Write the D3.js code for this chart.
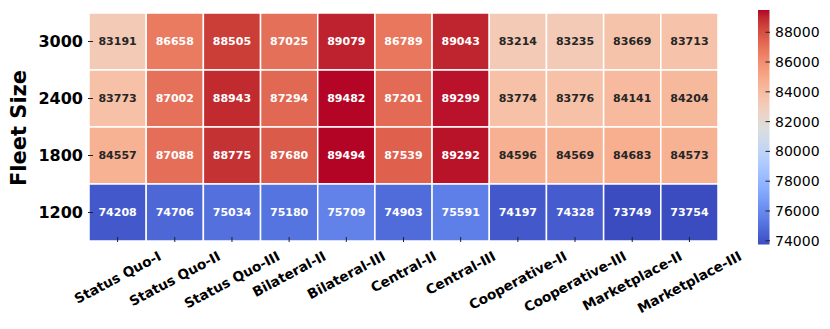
<!DOCTYPE html>
<html><head><meta charset="utf-8">
<script src="https://cdn.jsdelivr.net/npm/d3@7"></script>
<style>body{margin:0;background:#fff}svg{display:block;font-family:"DejaVu Sans",sans-serif}</style>
</head><body>
<svg id="c" width="830" height="329"></svg>
<script>
const strategies = ["Status Quo-I","Status Quo-II","Status Quo-III","Bilateral-II","Bilateral-III","Central-II","Central-III","Cooperative-II","Cooperative-III","Marketplace-II","Marketplace-III"];
const fleetSizes = ["3000","2400","1800","1200"];
const row3000 = [83191,86658,88505,87025,89079,86789,89043,83214,83235,83669,83713];
const row2400 = [83773,87002,88943,87294,89482,87201,89299,83774,83776,84141,84204];
const row1800 = [84557,87088,88775,87680,89494,87539,89292,84596,84569,84683,84573];
const row1200 = [74208,74706,75034,75180,75709,74903,75591,74197,74328,73749,73754];
const colorbarTicks = [74000,76000,78000,80000,82000,84000,86000,88000];
const rows = [row3000,row2400,row1800,row1200];

// matplotlib coolwarm (Moreland) control points
const cw = [[59,76,192],[68,90,204],[77,104,215],[87,117,225],[98,130,234],[108,142,241],[119,154,247],[130,165,251],[141,176,254],[152,185,255],[163,194,255],[174,201,253],[184,208,249],[194,213,244],[204,217,238],[213,219,230],[221,221,221],[229,216,209],[236,211,197],[241,204,184],[245,196,172],[247,187,159],[247,177,147],[247,166,134],[244,154,123],[241,141,111],[236,127,99],[229,112,89],[222,96,77],[213,80,66],[203,62,56],[192,40,47],[180,4,38]];
function coolwarm(t){
  t=Math.max(0,Math.min(1,t));
  const p=t*(cw.length-1), i=Math.min(cw.length-2,Math.floor(p)), f=p-i;
  const a=cw[i], b=cw[i+1];
  return `rgb(${Math.round(a[0]+(b[0]-a[0])*f)},${Math.round(a[1]+(b[1]-a[1])*f)},${Math.round(a[2]+(b[2]-a[2])*f)})`;
}
const all = rows.flat();
const vmin = d3.min(all), vmax = d3.max(all);
const norm = d3.scaleLinear().domain([vmin,vmax]).range([0,1]);
const color = v => coolwarm(norm(v));
function lum(c){
  const r=d3.rgb(c);
  const f=x=>{x/=255;return x<=0.03928?x/12.92:Math.pow((x+0.055)/1.055,2.4);};
  return 0.2126*f(r.r)+0.7152*f(r.g)+0.0722*f(r.b);
}

const svg = d3.select("#c");
const L=89, R=718, T=13, B=241;
const x = d3.scaleBand().domain(strategies).range([L,R]);
const y = d3.scaleBand().domain(fleetSizes).range([T,B]);

const cells=[];
rows.forEach((r,i)=>r.forEach((v,j)=>cells.push({s:strategies[j],f:fleetSizes[i],v})));
svg.append("g").selectAll("rect").data(cells).join("rect")
  .attr("x",d=>x(d.s)).attr("y",d=>y(d.f))
  .attr("width",x.bandwidth()).attr("height",y.bandwidth())
  .attr("fill",d=>color(d.v)).attr("stroke","#fff").attr("stroke-width",1.5);
svg.append("g").selectAll("text").data(cells).join("text")
  .attr("x",d=>x(d.s)+x.bandwidth()/2).attr("y",d=>y(d.f)+y.bandwidth()/2)
  .attr("dy","0.35em").attr("text-anchor","middle")
  .attr("font-size",11).attr("font-weight","bold")
  .attr("fill",d=>lum(color(d.v))>0.408?"#262626":"#fff")
  .text(d=>d.v);

// y axis
const ya = svg.append("g");
fleetSizes.forEach(f=>{
  const cy=y(f)+y.bandwidth()/2;
  ya.append("line").attr("x1",88).attr("x2",93).attr("y1",cy).attr("y2",cy).attr("stroke","#222").attr("stroke-width",1);
  ya.append("text").attr("x",83).attr("y",cy).attr("dy","0.36em").attr("text-anchor","end")
    .attr("font-size",16).attr("font-weight","bold").attr("fill","#000").text(f);
});
svg.append("text").attr("transform","translate(26,128) rotate(-90)").attr("text-anchor","middle")
  .attr("font-size",21).attr("font-weight","bold").attr("fill","#000").text("Fleet Size");

// x axis
const xa = svg.append("g");
const deg=28, ang=deg*Math.PI/180, fsx=13.6;
strategies.forEach(s=>{
  const cx=x(s)+x.bandwidth()/2;
  xa.append("line").attr("x1",cx).attr("x2",cx).attr("y1",237).attr("y2",242).attr("stroke","#222").attr("stroke-width",1);
  const t=xa.append("text").attr("text-anchor","middle").attr("dy","0.35em")
    .attr("font-size",fsx).attr("font-weight","bold").attr("fill","#000").text(s);
  const w=t.node().getComputedTextLength(), h=fsx*1.16;
  const H=w*Math.sin(ang)+h*Math.cos(ang);
  t.attr("transform",`translate(${cx},${248+H/2}) rotate(${-deg})`);
});

// colorbar
const cbL=758, cbW=11.5, cbT=10, cbB=244.5;
const defs=svg.append("defs");
const grad=defs.append("linearGradient").attr("id","cbg").attr("x1",0).attr("y1",1).attr("x2",0).attr("y2",0);
d3.range(0,1.0001,1/64).forEach(t=>grad.append("stop").attr("offset",t).attr("stop-color",coolwarm(t)));
svg.append("rect").attr("x",cbL).attr("y",cbT).attr("width",cbW).attr("height",cbB-cbT).attr("fill","url(#cbg)");
const cy=d3.scaleLinear().domain([vmin,vmax]).range([cbB,cbT]);
const cb=svg.append("g");
colorbarTicks.forEach(v=>{
  cb.append("line").attr("x1",cbL+cbW-4).attr("x2",cbL+cbW+0.5).attr("y1",cy(v)).attr("y2",cy(v)).attr("stroke","#222").attr("stroke-width",1);
  cb.append("text").attr("x",775).attr("y",cy(v)).attr("dy","0.36em").attr("font-size",14).attr("fill","#000").text(v);
});
</script>
</body></html>
